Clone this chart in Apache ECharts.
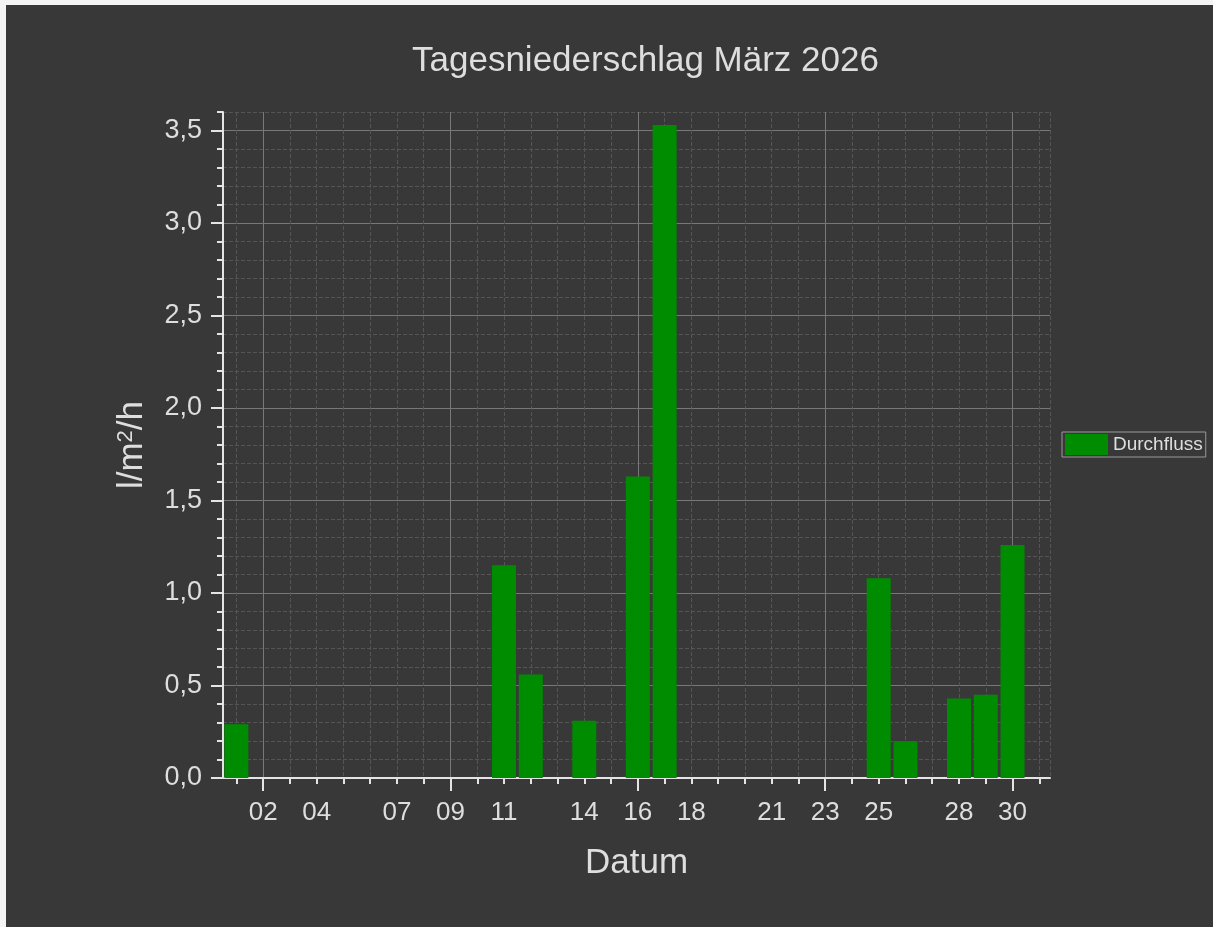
<!DOCTYPE html>
<html>
<head>
<meta charset="utf-8">
<title>Tagesniederschlag März 2026</title>
<script src="https://cdn.jsdelivr.net/npm/echarts@6/dist/echarts.min.js"></script>
<style>
  html, body { margin: 0; padding: 0; background: #f4f4f4; }
  #main { position: absolute; left: 6px; top: 5px; width: 1207px; height: 922px; }
</style>
</head>
<body>
<div id="main"></div>
<script>
// Tage mit Niederschlag (März 2026) und Werte in l/m²/h
var days = [1, 11, 12, 14, 16, 17, 25, 26, 28, 29, 30]
var rain = [0.29, 1.15, 0.56, 0.31, 1.63, 3.53, 1.08, 0.20, 0.43, 0.45, 1.26]

// Achsenbeschriftung
var xLabelDays = [2, 4, 7, 9, 11, 14, 16, 18, 21, 23, 25, 28, 30]
var xMajorDays = [2, 9, 16, 23, 30]
var yMajor = [0, 0.5, 1.0, 1.5, 2.0, 2.5, 3.0, 3.5]

var xMin = 0.5, xMax = 31.4
var yMin = 0, yMax = 3.6

var xMinorDays = []
for (var d = 1; d <= 31; d++) xMinorDays.push(d)
var yMinor = []
for (var k = 1; k <= 36; k++) {
  if (k % 5 !== 0) yMinor.push(k / 10)
}

var lineColor = '#e4e4e4'
var textColor = '#dedede'
var fontFamily = '"Liberation Sans", Arial, sans-serif'

var seriesData = days.map(function (d, i) { return [d, rain[i]] })

var myChart = echarts.init(document.getElementById('main'))

var option = {
  backgroundColor: '#383838',
  animation: false,
  textStyle: { fontFamily: fontFamily },
  title: {
    text: 'Tagesniederschlag März 2026',
    left: 401,
    top: 34,
    textStyle: { color: textColor, fontSize: 35, fontWeight: 'normal', fontFamily: fontFamily }
  },
  legend: {
    data: ['Durchfluss'],
    left: 1056,
    top: 427,
    orient: 'vertical',
    padding: [2, 3, 2, 3],
    itemWidth: 43,
    itemHeight: 21,
    borderColor: '#9a9a9a',
    borderWidth: 1,
    icon: 'rect',
    textStyle: { color: textColor, fontSize: 19, fontFamily: fontFamily }
  },
  grid: {
    left: 217,
    top: 107,
    width: 827,
    height: 666
  },
  xAxis: [
    {
      // Tagesachse (Balken, tägliche Ticks, Beschriftung)
      type: 'value',
      min: xMin,
      max: xMax,
      position: 'bottom',
      name: 'Datum',
      nameLocation: 'middle',
      nameGap: 68,
      nameTextStyle: { color: textColor, fontSize: 35, fontFamily: fontFamily },
      axisLine: { show: true, onZero: false, lineStyle: { color: lineColor, width: 2 } },
      axisTick: { show: true, customValues: xMinorDays, length: 6, lineStyle: { color: lineColor, width: 2 } },
      axisLabel: {
        customValues: xLabelDays,
        color: textColor,
        fontSize: 26,
        margin: 22,
        formatter: function (v) { return (v < 10 ? '0' : '') + v }
      },
      splitLine: { show: true, lineStyle: { color: '#555', type: [4, 2], width: 1 } }
    },
    {
      // Wochenmarken
      type: 'value',
      min: xMin,
      max: xMax,
      position: 'bottom',
      axisLine: { show: false },
      axisTick: { show: true, customValues: xMajorDays, length: 13, lineStyle: { color: lineColor, width: 2 } },
      axisLabel: { show: false },
      splitLine: { show: true, lineStyle: { color: '#787878', width: 1 } }
    },
    {
      // rechter Rand
      type: 'value',
      min: xMin,
      max: xMax,
      position: 'bottom',
      axisLine: { show: false },
      axisTick: { show: false, customValues: [xMax] },
      axisLabel: { show: false },
      splitLine: { show: true, lineStyle: { color: '#555', type: [4, 2], width: 1 } }
    }
  ],
  yAxis: [
    {
      type: 'value',
      min: yMin,
      max: yMax,
      position: 'left',
      name: '{a|l/m}{s|2}{a|/h}',
      nameLocation: 'middle',
      nameRotate: 90,
      nameGap: 73,
      nameTextStyle: {
        color: textColor,
        rich: {
          a: { color: textColor, fontSize: 35, fontFamily: fontFamily },
          s: { color: textColor, fontSize: 22, fontFamily: fontFamily, verticalAlign: 'top' }
        }
      },
      axisLine: { show: true, onZero: false, lineStyle: { color: lineColor, width: 2 } },
      axisTick: { show: true, customValues: yMajor, length: 12, lineStyle: { color: lineColor, width: 2 } },
      axisLabel: {
        customValues: yMajor,
        color: textColor,
        fontSize: 27,
        margin: 21,
        formatter: function (v) { return v.toFixed(1).replace('.', ',') }
      },
      splitLine: { show: true, lineStyle: { color: '#787878', width: 1 } }
    },
    {
      type: 'value',
      min: yMin,
      max: yMax,
      position: 'left',
      axisLine: { show: false },
      axisTick: { show: true, customValues: yMinor, length: 6, lineStyle: { color: lineColor, width: 2 } },
      axisLabel: { show: false },
      splitLine: { show: true, lineStyle: { color: '#555', type: [4, 2], width: 1 } }
    }
  ],
  series: [
    {
      name: 'Durchfluss',
      type: 'bar',
      xAxisIndex: 0,
      yAxisIndex: 0,
      barWidth: 24,
      itemStyle: { color: '#008c00' },
      data: seriesData
    }
  ]
}

myChart.setOption(option)
</script>
</body>
</html>
